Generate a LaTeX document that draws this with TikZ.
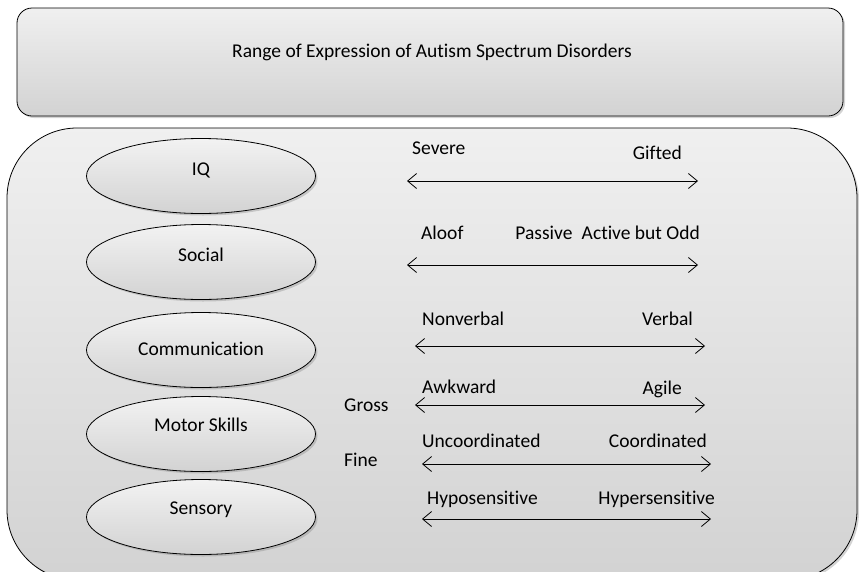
\documentclass[tikz,border=0pt]{standalone}
\usepackage{fontspec}
\setmainfont{Carlito}[Ligatures=NoCommon]
\usepackage{tikz}
\usetikzlibrary{arrows.meta,shadows,shapes.geometric}

\begin{document}
\begin{tikzpicture}[
        x=1pt, y=-1pt,
        every node/.style={font=\fontsize{19.5}{22}\selectfont, inner sep=0pt},
        panel/.style={draw, thick, top color=gray!12, bottom color=gray!35,
            drop shadow={opacity=0.35, shadow xshift=2pt, shadow yshift=-2pt}},
        aspect/.style={ellipse, draw, thick, minimum width=229pt, minimum height=75pt,
            top color=gray!10, bottom color=gray!35,
            drop shadow={opacity=0.35, shadow xshift=2pt, shadow yshift=-2pt}},
        scalearrow/.style={{Straight Barb[length=9pt,width=15pt]}-{Straight Barb[length=9pt,width=15pt]}, thick}
        ]
        \useasboundingbox (0,0) rectangle (859,571);

        % Cajas de fondo
        \draw[panel, rounded corners=15pt] (17,8) rectangle (843,116);
        \node (titulo) at (432,52) {Range of Expression of Autism Spectrum Disorders};
        \begin{scope}
        \clip (0,0) rectangle (859,571);
        \draw[panel, rounded corners=70pt] (7,128) rectangle (857,580);
        \end{scope}

        % Elipses
        \node[aspect] (iq) at (201,176) {};
        \node[aspect] (social) at (201,262) {};
        \node[aspect] (comm) at (201,350) {};
        \node[aspect] (motor) at (201,434) {};
        \node[aspect] (sens) at (201,517) {};
        \node at (201,170) {IQ};
        \node at (201,255) {Social};
        \node at (201,349) {Communication};
        \node at (201,425) {Motor Skills};
        \node at (201,510) {Sensory};

        % Extremos de las escalas
        \coordinate (iqL) at (407,181);   \coordinate (iqR) at (698,181);
        \coordinate (socL) at (407,265);  \coordinate (socR) at (698,265);
        \coordinate (comL) at (415,346);  \coordinate (comR) at (705,346);
        \coordinate (grossL) at (415,405); \coordinate (grossR) at (705,405);
        \coordinate (fineL) at (422,464); \coordinate (fineR) at (711,464);
        \coordinate (senL) at (422,519);  \coordinate (senR) at (711,519);

        \draw[scalearrow] (iqL) -- (iqR);
        \draw[scalearrow] (socL) -- (socR);
        \draw[scalearrow] (comL) -- (comR);
        \draw[scalearrow] (grossL) -- (grossR);
        \draw[scalearrow] (fineL) -- (fineR);
        \draw[scalearrow] (senL) -- (senR);

        % Etiquetas
        \node[anchor=west] (severe) at (412,148) {Severe};
        \node[anchor=east] (gifted) at (682,153) {Gifted};
        \node[anchor=west] (aloof) at (421,233) {Aloof};
        \node (passive) at (544,233) {Passive};
        \node[anchor=east] (odd) at (700,233) {Active but Odd};
        \node[anchor=west] (nonverbal) at (422,319) {Nonverbal};
        \node[anchor=east] (verbal) at (693,319) {Verbal};
        \node[anchor=west] (awkward) at (422,387) {Awkward};
        \node[anchor=east] (agile) at (682,389) {Agile};
        \node[anchor=west] (gross) at (344,405) {Gross};
        \node[anchor=west] (uncoord) at (422,441) {Uncoordinated};
        \node[anchor=east] (coord) at (707,441) {Coordinated};
        \node[anchor=west] (fine) at (344,460) {Fine};
        \node[anchor=west] (hypo) at (427,499) {Hyposensitive};
        \node[anchor=east] (hyper) at (715,499) {Hypersensitive};
        \end{tikzpicture}
\end{document}
